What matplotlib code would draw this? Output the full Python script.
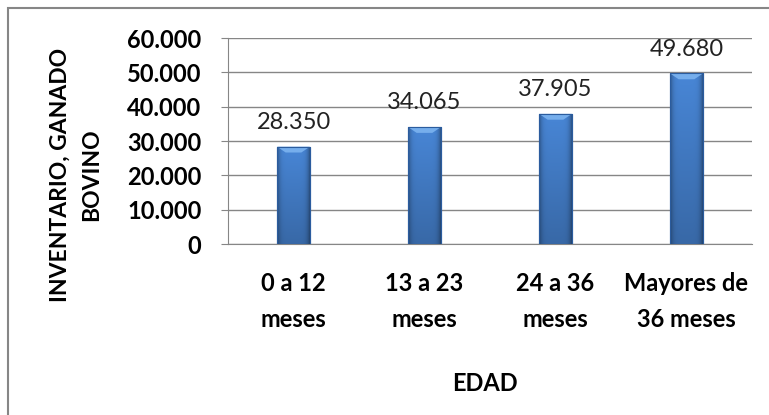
import numpy as np
import matplotlib
matplotlib.use("Agg")
import matplotlib.pyplot as plt
from matplotlib.patches import Rectangle, Polygon
from matplotlib.ticker import FixedLocator

categorias = ["0 a 12\nmeses", "13 a 23\nmeses", "24 a 36\nmeses", "Mayores de\n36 meses"]
valores = [28350, 34065, 37905, 49680]
etiquetas = ["28.350", "34.065", "37.905", "49.680"]
yticks = [0, 10000, 20000, 30000, 40000, 50000, 60000]
ytick_labels = ["0", "10.000", "20.000", "30.000", "40.000", "50.000", "60.000"]

plt.rcParams['font.family'] = ['Lato', 'DejaVu Sans']

fig = plt.figure(figsize=(7.69, 4.15), dpi=100)
ax = fig.add_axes([228/769, 1 - 244/415, (752 - 228)/769, (244 - 38)/415])

# outer chart frame (cropped on right and bottom in the reference)
fig.patches.append(Rectangle((8/769, -0.05), 1.1, 1 - 8/415 + 0.05,
                             transform=fig.transFigure, fill=False,
                             edgecolor='#868686', linewidth=1.5))

ax.set_xlim(-0.5, len(valores) - 0.5)
ax.set_ylim(0, 60000)
ax.yaxis.set_major_locator(FixedLocator(yticks))
ax.set_yticklabels(ytick_labels, fontsize=17, fontweight='bold')
ax.set_xticks(range(len(categorias)))
ax.set_xticklabels(categorias, fontsize=17, fontweight='bold', linespacing=1.7)
ax.tick_params(axis='x', length=0, pad=20)
ax.tick_params(axis='y', length=5, color='#868686', pad=14)
ax.grid(axis='y', color='#868686', linewidth=1)
ax.set_axisbelow(True)
for s in ('top', 'right'):
    ax.spines[s].set_visible(False)
for s in ('left', 'bottom'):
    ax.spines[s].set_color('#868686')

bar_w = 0.25
# gradient image: dark at the sides, a bit lighter at the top
nx, ny = 40, 100
hx = np.linspace(-1, 1, nx)
side = 1 - 0.35 * np.abs(hx) ** 6
vert = np.linspace(0.78, 1.0, ny)[:, None]
base = np.array([0x48, 0x86, 0xD6]) / 255
img = base[None, None, :] * (side[None, :] * vert)[:, :, None]
img = np.clip(img, 0, 1)

bars = ax.bar(range(len(valores)), valores, width=bar_w, color='#3C78C6',
              edgecolor='#2B5C9E', linewidth=0.8, zorder=2)
for i, (b, v) in enumerate(zip(bars, valores)):
    x0 = b.get_x()
    im = ax.imshow(img, extent=[x0, x0 + bar_w, 0, v], origin='lower',
                   aspect='auto', zorder=3, interpolation='bilinear')
    im.set_clip_path(b)
    bev_h = 1700
    bev_x = 0.065
    ax.add_patch(Polygon([[x0, v], [x0 + bar_w, v],
                          [x0 + bar_w - bev_x, v - bev_h], [x0 + bev_x, v - bev_h]],
                         closed=True, facecolor='#76AEEC', edgecolor='none', zorder=4))
    ax.add_patch(Rectangle((x0, 0), bar_w, v, fill=False, edgecolor='#2B5C9E',
                           linewidth=0.8, zorder=5))
    ax.annotate(etiquetas[i], (i, v), xytext=(0, 10), textcoords='offset points',
                ha='center', va='bottom', fontsize=17, color='#222222')

ax.set_xlim(-0.5, len(valores) - 0.5)
ax.set_ylim(0, 60000)

# y axis title, two lines placed separately
fig.text(60/769, 1 - 175/415, "INVENTARIO, GANADO", rotation=90,
         ha='center', va='center', fontsize=16.5, fontweight='bold')
fig.text(92/769, 1 - 175/415, "BOVINO", rotation=90,
         ha='center', va='center', fontsize=16.5, fontweight='bold')
fig.text(485/769, 1 - 383/415, "EDAD", ha='center', va='center',
         fontsize=17, fontweight='bold')

fig.savefig("out.png", dpi=100)
